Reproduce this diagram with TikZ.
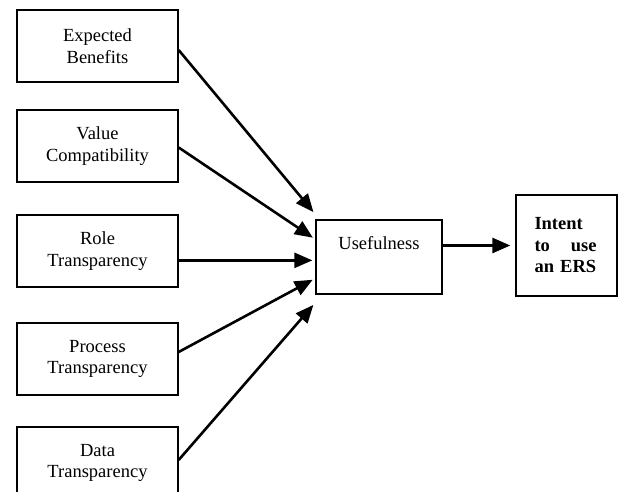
\documentclass[tikz,border=0pt]{standalone}
\usepackage{fontspec}
\setmainfont{Liberation Serif}
\usetikzlibrary{arrows.meta,calc}
\tikzstyle{factor} = [draw, rectangle, line width=1.3pt, minimum width=161pt, minimum height=72pt, text width=150pt, align=center, font=\fontsize{18.5}{21.5}\selectfont]
\tikzstyle{line} = [draw, line width=2.6pt, shorten >=3pt, -{Triangle[length=18pt,width=15pt]}]

\begin{document}
\begin{tikzpicture}[x=1pt, y=-1pt, node distance=104pt]
    \useasboundingbox (0,0) rectangle (619,492);

    % Place nodes
    \node [factor] (benefits) at (97.5,46) {Expected\\Benefits};
    \node [factor, below of=benefits, node distance=100pt] (compat) {Value\\Compatibility};
    \node [factor, below of=compat, node distance=105pt] (role) {Role\\Transparency};
    \node [factor, below of=role, node distance=108pt] (process) {Process\\Transparency};
    \node [factor, below of=process] (data) {Data\\Transparency};
    \node [factor, minimum width=126pt, minimum height=74pt, text width=115pt] (use) at (379,257) {Usefulness\\ \strut};
    \node [factor, minimum width=101pt, minimum height=101pt, text width=64pt, align=left, font=\fontsize{18.5}{21.5}\selectfont\bfseries] (intent) at (566.5,245.5) {Intent\\\mbox{to\hspace{21pt}use}\\an ERS};

    % Arrow ends on the left side of Usefulness
    \coordinate (t1) at ($(use.north west)+(0,-5)$);
    \coordinate (t2) at ($(use.north west)+(0,20)$);
    \coordinate (t3) at ($(use.north west)+(0,41)$);
    \coordinate (t4) at ($(use.north west)+(0,59)$);
    \coordinate (t5) at ($(use.south west)+(0,8)$);

    % Draw edges
    \path [line] ($(benefits.east)+(0,4)$) -- (t1);
    \path [line] ($(compat.east)+(0,1.5)$) -- (t2);
    \path [line] (role.east |- t3) -- (t3);
    \path [line] ($(process.east)+(0,-7)$) -- (t4);
    \path [line] ($(data.east)+(0,-3)$) -- (t5);
    \path [line, shorten >=5pt] (use.east |- intent.west) -- (intent.west);
\end{tikzpicture}
\end{document}
